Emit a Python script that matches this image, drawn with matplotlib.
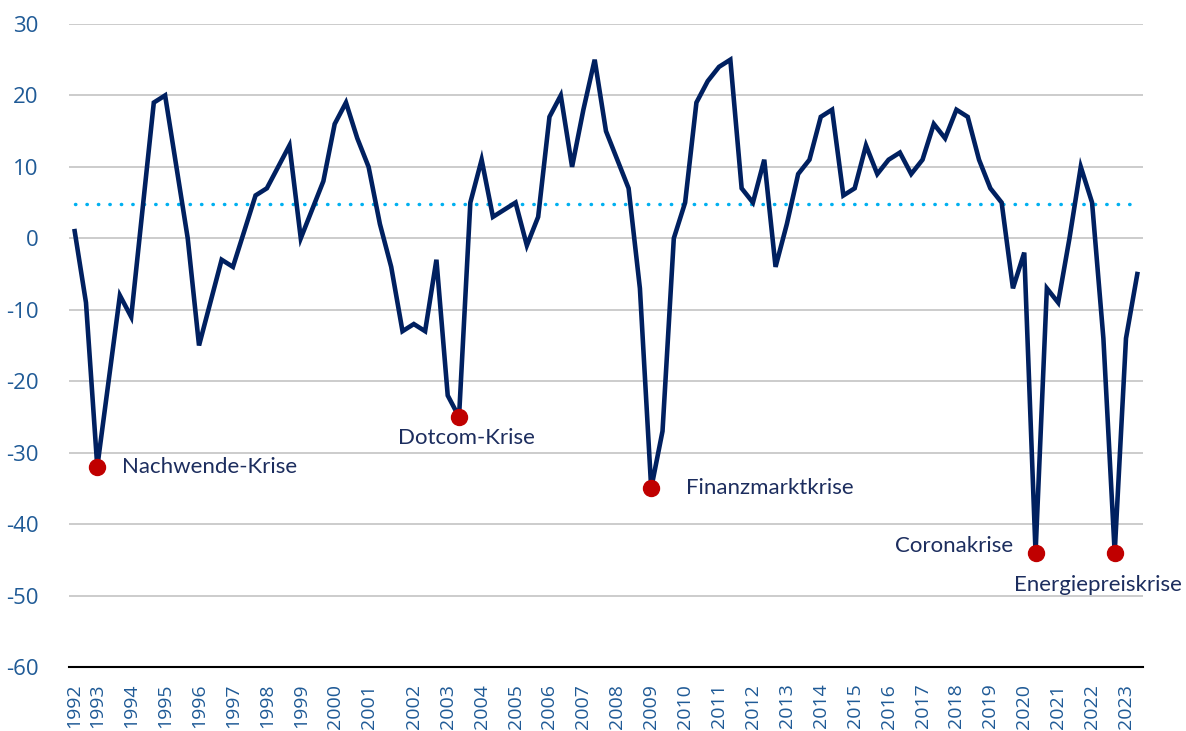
import numpy as np
import matplotlib
matplotlib.use('Agg')
import matplotlib.pyplot as plt

plt.rcParams['axes.unicode_minus'] = False

# (1) Daten
werte = [1, -9, -32, -20, -8, -11, 4, 19, 20, 10,
         0, -15, -9, -3, -4, 1, 6, 7, 10, 13,
         0, 4, 8, 16, 19, 14, 10, 2, -4, -13,
         -12, -13, -3, -22, -25, 5, 11, 3, 4, 5,
         -1, 3, 17, 20, 10, 18, 25, 15, 11, 7,
         -7, -35, -27, 0, 5, 19, 22, 24, 25, 7,
         5, 11, -4, 2, 9, 11, 17, 18, 6, 7,
         13, 9, 11, 12, 9, 11, 16, 14, 18, 17,
         11, 7, 5, -7, -2, -44, -7, -9, 0, 10,
         5, -14, -44, -14, -5]
durchschnitt = 4.8

jahre = [str(j) for j in range(1992, 2024)]
jahr_pos = [0, 2, 5, 8, 11, 14, 17, 20, 23, 26,
            30, 33, 36, 39, 42, 45, 48, 51, 54, 57,
            60, 63, 66, 69, 72, 75, 78, 81, 84, 87,
            90, 93]

krisen = ['Nachwende-Krise', 'Dotcom-Krise', 'Finanzmarktkrise', 'Coronakrise', 'Energiepreiskrise']
krisen_pos = [2, 34, 51, 85, 92]

# (2) Farben
navy = '#002060'
rot = '#c00000'
hellblau = '#00b0f0'
tick_farbe = '#1f5a96'
text_farbe = '#1c2d5e'

x = np.arange(len(werte))

fig = plt.figure(figsize=(11.86, 7.31), dpi=100)
ax = fig.add_axes([0.0582, 0.0876, 0.9055, 0.8796])

ax.set_ylim(-60, 30)
ax.set_xlim(-0.5, len(werte) - 0.5)
ax.set_yticks(range(-60, 31, 10))
ax.yaxis.grid(True, color='#c8c8c8', linewidth=1.3)
ax.set_axisbelow(True)

for s in ['top', 'right', 'left']:
    ax.spines[s].set_visible(False)
ax.spines['bottom'].set_color('black')
ax.spines['bottom'].set_linewidth(1.5)

# Durchschnitt (gepunktet)
ax.plot([x[0], x[-1]], [durchschnitt, durchschnitt], color=hellblau, linewidth=2.5,
        linestyle=(0, (0.1, 3.2)), dash_capstyle='round', zorder=2)

# Hauptlinie
ax.plot(x, werte, color=navy, linewidth=3.3, solid_joinstyle='miter', zorder=3)

# Krisenpunkte
kx = [x[i] for i in krisen_pos]
ky = [werte[i] for i in krisen_pos]
ax.plot(kx, ky, 'o', color=rot, markersize=11.5, zorder=4)

# Beschriftungen
font_anno = ['Lato', 'DejaVu Sans']
ax.annotate(krisen[0], (kx[0], ky[0]), xytext=(18, 0), textcoords='offset points',
            ha='left', va='center', fontsize=16, color=text_farbe, family=font_anno)
ax.annotate(krisen[1], (kx[1], ky[1]), xytext=(5, -15), textcoords='offset points',
            ha='center', va='center', fontsize=16, color=text_farbe, family=font_anno)
ax.annotate(krisen[2], (kx[2], ky[2]), xytext=(25, 0), textcoords='offset points',
            ha='left', va='center', fontsize=16, color=text_farbe, family=font_anno)
ax.annotate(krisen[3], (kx[3], ky[3]), xytext=(-16, 5), textcoords='offset points',
            ha='right', va='center', fontsize=16, color=text_farbe, family=font_anno)
ax.annotate(krisen[4], (kx[4], ky[4]), xytext=(-12, -23), textcoords='offset points',
            ha='center', va='center', fontsize=16, color=text_farbe, family=font_anno)

# Achsenbeschriftungen
ax.set_xticks(jahr_pos)
ax.set_xticklabels(jahre, rotation=90, fontsize=14, color=tick_farbe, family=['Open Sans', 'DejaVu Sans'])
ax.tick_params(axis='x', length=0, pad=12)
ax.tick_params(axis='y', length=0, pad=22, labelsize=16, labelcolor=tick_farbe)
for lab in ax.get_yticklabels():
    lab.set_family(['Open Sans', 'DejaVu Sans'])

fig.savefig('out.png', dpi=100)
